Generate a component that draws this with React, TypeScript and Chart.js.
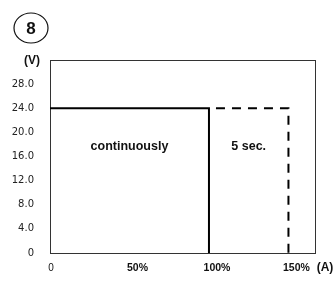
import React, { useEffect, useRef } from "react";
import { Chart, registerables } from "chart.js";

Chart.register(...registerables);

// Data
const solidX = [0, 100, 100];
const solidY = [24, 24, 0];
const dashedX = [100, 150, 150];
const dashedY = [24, 24, 0];
const yTickValues = [0, 4, 8, 12, 16, 20, 24, 28];
const yTickLabels = ["0", "4.0", "8.0", "12.0", "16.0", "20.0", "24.0", "28.0"];
const xTickValues = [0, 50, 100, 150];
const xTickLabels = ["0", "50%", "100%", "150%"];
const annotationTexts = ["continuously", "5 sec."];
const annotationX = [50, 125];
const annotationY = [17.6, 17.6];
const yUnit = "(V)";
const xUnit = "(A)";
const badge = "8";

const FONT = "'Liberation Sans', Arial, sans-serif";

const decorPlugin = {
  id: "decor",
  beforeDatasetsDraw(chart: any) {
    const { ctx, chartArea } = chart;
    ctx.save();
    ctx.strokeStyle = "#333";
    ctx.lineWidth = 1;
    ctx.strokeRect(
      Math.round(chartArea.left) + 0.5,
      Math.round(chartArea.top) + 0.5,
      Math.round(chartArea.right - chartArea.left),
      Math.round(chartArea.bottom - chartArea.top)
    );
    ctx.restore();
  },
  afterDraw(chart: any) {
    const { ctx, chartArea, scales } = chart;
    const xs = scales.x;
    const ys = scales.y;
    ctx.save();
    ctx.fillStyle = "#111";
    ctx.textBaseline = "middle";
    ctx.textAlign = "center";

    // badge
    ctx.strokeStyle = "#111";
    ctx.lineWidth = 1.2;
    ctx.beginPath();
    ctx.ellipse(31, 28, 17, 15, 0, 0, Math.PI * 2);
    ctx.stroke();
    ctx.font = `bold 17px ${FONT}`;
    ctx.fillText(badge, 31, 29);

    // y unit
    ctx.font = `bold 12px ${FONT}`;
    ctx.fillText(yUnit, 32, 61);

    // x tick labels
    const labelY = chartArea.bottom + 15;
    xTickValues.forEach((v, i) => {
      const px = xs.getPixelForValue(v) + (v === 0 ? 1 : 8);
      ctx.font = v === 0 ? `10px ${FONT}` : `bold 10.5px ${FONT}`;
      ctx.fillText(xTickLabels[i], px, labelY);
    });
    ctx.font = `bold 12px ${FONT}`;
    ctx.fillText(xUnit, 325, labelY);

    // annotations
    ctx.font = `bold 12.5px ${FONT}`;
    annotationTexts.forEach((t, i) => {
      ctx.fillText(t, xs.getPixelForValue(annotationX[i]), ys.getPixelForValue(annotationY[i]));
    });
    ctx.restore();
  },
};

export default function App() {
  const canvasRef = useRef<HTMLCanvasElement>(null);

  useEffect(() => {
    if (!canvasRef.current) return;
    const chart = new Chart(canvasRef.current, {
      type: "scatter",
      data: {
        datasets: [
          {
            data: solidX.map((x, i) => ({ x, y: solidY[i] })),
            showLine: true,
            borderColor: "#000",
            borderWidth: 2,
            pointRadius: 0,
            tension: 0,
          },
          {
            data: dashedX.map((x, i) => ({ x, y: dashedY[i] })),
            showLine: true,
            borderColor: "#000",
            borderWidth: 2,
            borderDash: [9, 7],
            borderDashOffset: 9,
            pointRadius: 0,
            tension: 0,
          },
        ],
      },
      plugins: [decorPlugin],
      options: {
        responsive: false,
        animation: false,
        devicePixelRatio: 1,
        layout: { padding: { left: 0, right: 20, top: 60, bottom: 0 } },
        plugins: { legend: { display: false }, tooltip: { enabled: false } },
        scales: {
          x: {
            type: "linear",
            min: 0,
            max: 166.7,
            grid: { display: false },
            border: { display: false },
            ticks: { display: false },
            afterFit: (scale: any) => {
              scale.height = 40;
            },
          },
          y: {
            type: "linear",
            min: 0,
            max: 32,
            grid: { display: false },
            border: { display: false },
            afterBuildTicks: (scale: any) => {
              scale.ticks = yTickValues.map((v) => ({ value: v }));
            },
            ticks: {
              padding: 8,
              color: "#222",
              font: { family: "'DejaVu Sans', sans-serif", size: 10 },
              callback: (value: any) => {
                const idx = yTickValues.indexOf(Number(value));
                return idx >= 0 ? yTickLabels[idx] : "";
              },
            },
            afterFit: (scale: any) => {
              scale.width = 50;
            },
          },
        },
      },
    });
    return () => chart.destroy();
  }, []);

  return (
    <div style={{ position: "fixed", left: 0, top: 0, width: 335, height: 293, background: "#fff" }}>
      <canvas ref={canvasRef} width={335} height={293} />
    </div>
  );
}
